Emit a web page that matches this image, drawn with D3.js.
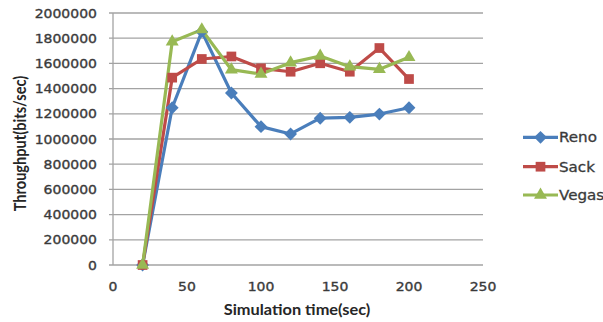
<!DOCTYPE html>
<html>
<head>
<meta charset="utf-8">
<script src="https://cdn.jsdelivr.net/npm/d3@7"></script>
<style>
  html, body { margin: 0; padding: 0; background: #fff; }
  svg { display: block; }
</style>
</head>
<body>
<svg id="chart" width="603" height="322"></svg>
<script>
// Simulation time (sec) for each sample
const times = [20, 40, 60, 80, 100, 120, 140, 160, 180, 200];
// Throughput (bits/sec) per TCP variant
const reno  = [0, 1248000, 1852000, 1365000, 1098000, 1040000, 1165000, 1172000, 1198000, 1248000];
const sack  = [0, 1487000, 1635000, 1655000, 1561000, 1534000, 1601000, 1534000, 1722000, 1476000];
const vegas = [0, 1772000, 1868000, 1550000, 1516000, 1606000, 1659000, 1574000, 1553000, 1648000];
const seriesNames = ["Reno", "Sack", "Vegas"];
const xTicks = [0, 50, 100, 150, 200, 250];
const yTicks = [0, 200000, 400000, 600000, 800000, 1000000, 1200000, 1400000, 1600000, 1800000, 2000000];

const colors = { Reno: "#4a7ebb", Sack: "#be4b48", Vegas: "#98b954" };
const symbols = { Reno: d3.symbolDiamond2, Sack: d3.symbolSquare2, Vegas: d3.symbolTriangle2 };
const symbolSize = { Reno: 105, Sack: 120, Vegas: 120 };

const series = [
  { name: "Reno", values: reno },
  { name: "Sack", values: sack },
  { name: "Vegas", values: vegas }
];

const svg = d3.select("#chart");
const plot = { left: 113, right: 483, top: 13, bottom: 265 };

const x = d3.scaleLinear().domain([0, 250]).range([plot.left, plot.right]);
const y = d3.scaleLinear().domain([0, 2000000]).range([plot.bottom, plot.top]);

const textColor = "#3a3a3a";
const stretch = 1.12;

// Horizontal gridlines
svg.append("g")
  .selectAll("line")
  .data(yTicks)
  .join("line")
  .attr("x1", plot.left - 4).attr("x2", plot.right)
  .attr("y1", d => y(d)).attr("y2", d => y(d))
  .attr("stroke", "#a3a3a3").attr("stroke-width", 1.3);

// Vertical axis line
svg.append("line")
  .attr("x1", plot.left).attr("x2", plot.left)
  .attr("y1", plot.top).attr("y2", plot.bottom)
  .attr("stroke", "#a3a3a3").attr("stroke-width", 1.3);

// Tick labels share one look
function tickText(sel) {
  sel.attr("font-family", "DejaVu Sans, sans-serif")
    .attr("font-size", 12.5)
    .attr("fill", textColor)
    .attr("stroke", textColor)
    .attr("stroke-width", 0.35);
}

// Y tick labels
svg.append("g")
  .selectAll("text")
  .data(yTicks)
  .join("text")
  .attr("transform", d => `translate(97,${y(d) + 4.5}) scale(${stretch},1)`)
  .attr("text-anchor", "end")
  .call(tickText)
  .text(d => d);

// X tick labels
svg.append("g")
  .selectAll("text")
  .data(xTicks)
  .join("text")
  .attr("transform", d => `translate(${x(d)},291) scale(${stretch},1)`)
  .attr("text-anchor", "middle")
  .call(tickText)
  .text(d => d);

// Axis titles
svg.append("text")
  .attr("transform", `translate(${(plot.left + plot.right) / 2 - 1},315) scale(${stretch},1)`)
  .attr("text-anchor", "middle")
  .attr("font-family", "Lato, sans-serif")
  .attr("font-weight", "bold")
  .attr("font-size", 14.6)
  .attr("fill", "#262626")
  .text("Simulation time(sec)");

svg.append("text")
  .attr("transform", "translate(26,143.5) rotate(-90) scale(1,1.12)")
  .attr("text-anchor", "middle")
  .attr("font-family", "Lato, sans-serif")
  .attr("font-weight", "bold")
  .attr("font-size", 14.6)
  .attr("fill", "#262626")
  .text("Throughput(bits/sec)");

// Series lines and markers
const line = d3.line()
  .x((d, i) => x(times[i]))
  .y(d => y(d));

const g = svg.append("g");
series.forEach(s => {
  g.append("path")
    .datum(s.values)
    .attr("d", line)
    .attr("fill", "none")
    .attr("stroke", colors[s.name])
    .attr("stroke-width", 3.2)
    .attr("stroke-linejoin", "round");
});
series.forEach(s => {
  g.append("g")
    .selectAll("path")
    .data(s.values)
    .join("path")
    .attr("transform", (d, i) => `translate(${x(times[i])},${y(d)})`)
    .attr("d", d3.symbol().type(symbols[s.name]).size(symbolSize[s.name]))
    .attr("fill", colors[s.name]);
});

// Legend
const legendY = [137.3, 166.7, 195];
const legend = svg.append("g");
seriesNames.forEach((name, i) => {
  const row = legend.append("g").attr("transform", `translate(0,${legendY[i]})`);
  row.append("line")
    .attr("x1", 523).attr("x2", 558)
    .attr("y1", 0).attr("y2", 0)
    .attr("stroke", colors[name]).attr("stroke-width", 3.2);
  row.append("path")
    .attr("transform", "translate(540.5,0)")
    .attr("d", d3.symbol().type(symbols[name]).size(symbolSize[name]))
    .attr("fill", colors[name]);
  row.append("text")
    .attr("transform", `translate(559,5) scale(${stretch},1)`)
    .attr("font-family", "DejaVu Sans, sans-serif")
    .attr("font-size", 13.5)
    .attr("fill", textColor)
    .attr("stroke", textColor)
    .attr("stroke-width", 0.3)
    .text(name);
});
</script>
</body>
</html>
